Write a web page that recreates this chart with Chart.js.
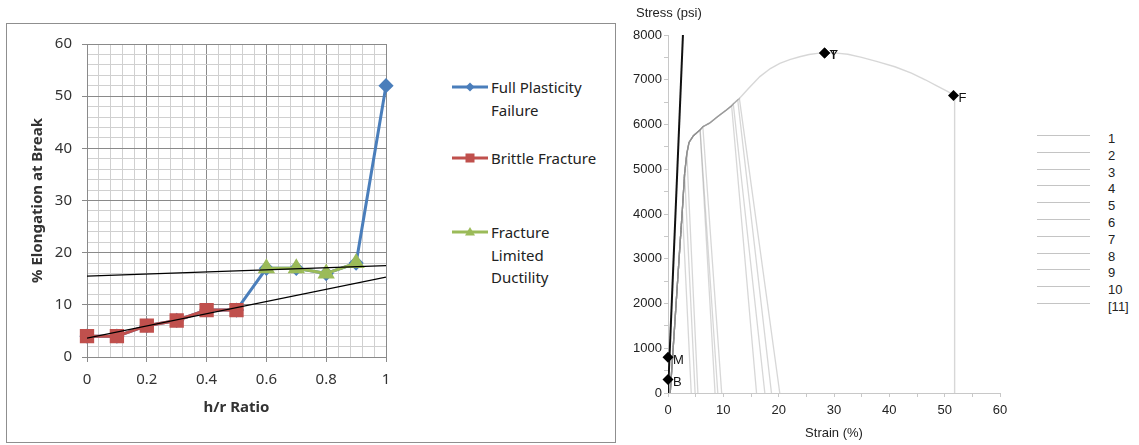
<!DOCTYPE html>
<html lang="en">
<head>
<meta charset="UTF-8">
<title>Elongation and stress-strain</title>
<script src="https://cdn.jsdelivr.net/npm/chart.js"></script>
<style>
  body {
    margin: 0;
    width: 1139px;
    height: 445px;
    position: relative;
    overflow: hidden;
    background: #fff;
    font-family: "Noto Sans", sans-serif;
  }
  .abs { position: absolute; }
  #frame {
    left: 6px; top: 23px;
    width: 608px; height: 418px;
    border: 1px solid #8f8f8f;
  }
  .lgText {
    font-size: 15px;
    line-height: 22.5px;
    color: #222;
    white-space: nowrap;
  }
  .rlgText {
    font-family: "Liberation Sans", sans-serif;
    font-size: 13px;
    color: #222;
  }
  .rlgLine {
    width: 53px;
    border-top: 1px solid #c4c4c4;
  }
</style>
</head>
<body>

<div id="frame" class="abs"></div>
<canvas id="leftChart" class="abs" width="420" height="417" style="left:7px; top:24px"></canvas>
<canvas id="rightChart" class="abs" width="420" height="445" style="left:600px; top:0px"></canvas>

<!-- legend of the left chart -->
<svg class="abs" style="left:450px; top:76px" width="40" height="22">
  <line x1="2" y1="11" x2="38" y2="11" stroke="#4A7EBB" stroke-width="3"/>
  <polygon points="20,6.5 24.5,11 20,15.5 15.5,11" fill="#4A7EBB"/>
</svg>
<div class="abs lgText" style="left:491px; top:76px">Full Plasticity<br>Failure</div>

<svg class="abs" style="left:450px; top:147px" width="40" height="22">
  <line x1="2" y1="11" x2="38" y2="11" stroke="#C0504D" stroke-width="3"/>
  <rect x="15.5" y="6.5" width="9" height="9" fill="#C0504D"/>
</svg>
<div class="abs lgText" style="left:491px; top:147px">Brittle Fracture</div>

<svg class="abs" style="left:450px; top:221px" width="40" height="22">
  <line x1="2" y1="11" x2="38" y2="11" stroke="#9BBB59" stroke-width="3"/>
  <polygon points="20,6 25,14.5 15,14.5" fill="#9BBB59"/>
</svg>
<div class="abs lgText" style="left:491px; top:221px">Fracture<br>Limited<br>Ductility</div>

<div id="rightLegend"></div>

<script>
// ---- left chart: % elongation vs h/r ratio ----
const hrRatio = [0, 0.1, 0.2, 0.3, 0.4, 0.5, 0.6, 0.7, 0.8, 0.9, 1];
const fullPlasticity = [4, 4, 6, 7, 9, 9, 17, 17, 16, 18, 52];
const brittleFracture = [4, 4, 6, 7, 9, 9, null, null, null, null, null];
const limitedDuctility = [null, null, null, null, null, null, 17, 17, 16, 18, null];
const trendX = [0, 1];
const brittleTrend = [3.6, 15.3];
const limitedTrend = [15.5, 17.5];

// ---- right chart: stress (psi) vs strain (%) ----
const curveStrain = [0.4, 1.2, 2.0, 2.6, 3.0, 3.4, 3.8, 4.6, 5.8, 6.3, 7.5, 9.0, 10.5, 11.5, 11.8, 12.6, 12.9,
  14.5, 16.6, 18.5, 20.2, 22, 23.8, 25.5, 27, 28.5, 30.5, 32.5, 35, 38, 41, 44, 46.5, 48.5, 50.5, 51.8, 51.8];
const curveStress = [0, 1500, 3000, 4100, 4900, 5350, 5600, 5750, 5880, 5950, 6030, 6180, 6320, 6420, 6460, 6550, 6580,
  6800, 7070, 7250, 7365, 7450, 7515, 7565, 7590, 7600, 7595, 7570, 7500, 7400, 7290, 7150, 7000, 6870, 6740, 6650, 0];
const unloadTopStrain = [2.6, 3.0, 3.4, 5.8, 5.8, 6.3, 11.5, 11.8, 12.6, 12.9];
const unloadTopStress = [4100, 4900, 5350, 5880, 5880, 5950, 6420, 6460, 6550, 6580];
const unloadEndStrain = [4.2, 4.9, 5.4, 8.5, 9.0, 9.7, 16.0, 17.5, 18.7, 20.2];
const seriesNames = ['1', '2', '3', '4', '5', '6', '7', '8', '9', '10', '[11]'];
const modulusStrain = [0, 2.7];
const modulusStress = [0, 8000];
const markStrain = [0, 0, 28.3, 28.3, 51.6];
const markStress = [300, 800, 7600, 7600, 6650];
const markNames = ['B', 'M', 'Y', 'T', 'F'];

const BLUE = '#4A7EBB', RED = '#C0504D', GREEN = '#9BBB59';
const calFont = '"Noto Sans", sans-serif';
const helvFont = '"Liberation Sans", sans-serif';

function pts(xs, ys) {
  return xs.map((x, i) => ({ x: x, y: ys[i] }));
}

function isMultiple(v, step) {
  const q = v / step;
  return Math.abs(q - Math.round(q)) < 1e-6;
}

// left chart
new Chart(document.getElementById('leftChart'), {
  type: 'line',
  data: {
    datasets: [
      { data: pts(trendX, brittleTrend), borderColor: '#000', borderWidth: 1.3, pointRadius: 0 },
      { data: pts(trendX, limitedTrend), borderColor: '#000', borderWidth: 1.3, pointRadius: 0 },
      { label: 'Fracture Limited Ductility', data: pts(hrRatio, limitedDuctility), borderColor: GREEN,
        backgroundColor: GREEN, borderWidth: 3, pointStyle: 'triangle', pointRadius: 7, clip: false },
      { label: 'Brittle Fracture', data: pts(hrRatio, brittleFracture), borderColor: RED,
        backgroundColor: RED, borderWidth: 3, pointStyle: 'rect', pointRadius: 8, clip: false },
      { label: 'Full Plasticity Failure', data: pts(hrRatio, fullPlasticity), borderColor: BLUE,
        backgroundColor: BLUE, borderWidth: 3, pointStyle: 'rectRot', pointRadius: 5.5, clip: false }
    ]
  },
  options: {
    responsive: false,
    animation: false,
    layout: { padding: { left: 0, right: 41, top: 20, bottom: 24 } },
    plugins: { legend: { display: false }, tooltip: { enabled: false } },
    elements: { line: { tension: 0 }, point: { borderWidth: 0 } },
    scales: {
      x: {
        type: 'linear', min: 0, max: 1,
        afterFit: s => { s.height = 60; },
        ticks: {
          stepSize: 0.04, autoSkip: false, maxRotation: 0, padding: 9,
          color: '#333', font: { family: calFont, size: 15 },
          callback: v => isMultiple(v, 0.2) ? String(Number(v.toFixed(2))) : ''
        },
        grid: {
          color: c => isMultiple(c.tick.value, 0.2) ? '#8a8a8a' : '#d0d0d0',
          tickColor: c => isMultiple(c.tick.value, 0.2) ? '#8a8a8a' : 'rgba(0,0,0,0)',
          tickLength: 5
        },
        border: { color: '#8a8a8a' },
        title: { display: true, text: 'h/r Ratio', color: '#333', padding: 0,
          font: { family: calFont, size: 15, weight: 'bold' } }
      },
      y: {
        min: 0, max: 60,
        afterFit: s => { s.width = 80; },
        ticks: {
          stepSize: 2, autoSkip: false, padding: 10,
          color: '#333', font: { family: calFont, size: 15 },
          callback: v => isMultiple(v, 10) ? String(v) : ''
        },
        grid: {
          color: c => isMultiple(c.tick.value, 10) ? '#8a8a8a' : '#d0d0d0',
          tickColor: c => isMultiple(c.tick.value, 10) ? '#8a8a8a' : 'rgba(0,0,0,0)',
          tickLength: 5
        },
        border: { color: '#8a8a8a' },
        title: { display: true, text: '% Elongation at Break', color: '#333', padding: { top: 22, bottom: 0 },
          font: { family: calFont, size: 15, weight: 'bold' } }
      }
    }
  }
});

// right chart
const grayLine = 'rgba(140,140,140,0.35)';
const testSets = unloadTopStrain.map((top, i) => {
  const load = curveStrain.map((s, k) => ({ x: s, y: curveStress[k] })).filter(p => p.x < top);
  return {
    label: seriesNames[i],
    data: load.concat([{ x: top, y: unloadTopStress[i] }, { x: unloadEndStrain[i], y: 0 }]),
    borderColor: grayLine, borderWidth: 1.3, pointRadius: 0
  };
});
testSets.push({
  label: seriesNames[10], data: pts(curveStrain, curveStress),
  borderColor: grayLine, borderWidth: 1.4, pointRadius: 0
});

const pointLabels = {
  id: 'pointLabels',
  afterDatasetsDraw(chart) {
    const { ctx, scales: { x, y }, chartArea } = chart;
    ctx.save();
    ctx.font = '13px ' + helvFont;
    ctx.fillStyle = '#111';
    ctx.textBaseline = 'middle';
    markNames.forEach((t, i) => {
      ctx.fillText(t, x.getPixelForValue(markStrain[i]) + 5, y.getPixelForValue(markStress[i]) + 3);
    });
    ctx.fillStyle = '#222';
    ctx.fillText('Stress (psi)', chartArea.left - 32, 13);
    ctx.restore();
  }
};

new Chart(document.getElementById('rightChart'), {
  type: 'line',
  data: {
    datasets: [
      { data: pts(markStrain, markStress), showLine: false, pointStyle: 'rectRot', pointRadius: 5.5,
        backgroundColor: '#000', borderWidth: 0, clip: false },
      { data: pts(modulusStrain, modulusStress), borderColor: '#111', borderWidth: 2, pointRadius: 0 }
    ].concat(testSets)
  },
  options: {
    responsive: false,
    animation: false,
    layout: { padding: { left: 0, right: 20, top: 35, bottom: 0 } },
    plugins: { legend: { display: false }, tooltip: { enabled: false } },
    elements: { line: { tension: 0 } },
    scales: {
      x: {
        type: 'linear', min: 0, max: 60,
        afterFit: s => { s.height = 52; },
        ticks: {
          stepSize: 5, autoSkip: false, maxRotation: 0, padding: 6,
          color: '#222', font: { family: helvFont, size: 13 },
          callback: v => isMultiple(v, 10) ? String(v) : ''
        },
        grid: { drawOnChartArea: false, tickLength: 4, tickColor: '#c8c8c8' },
        border: { color: '#c8c8c8', dash: [1, 2] },
        title: { display: true, text: 'Strain (%)', color: '#222', padding: { top: 0, bottom: 4 },
          font: { family: helvFont, size: 13 } }
      },
      y: {
        min: 0, max: 8000,
        afterFit: s => { s.width = 68; },
        ticks: {
          stepSize: 500, autoSkip: false, padding: 2,
          color: '#222', font: { family: helvFont, size: 13 },
          callback: v => isMultiple(v, 1000) ? String(v) : ''
        },
        grid: { drawOnChartArea: false, tickLength: 4, tickColor: '#c8c8c8' },
        border: { color: '#c8c8c8', dash: [1, 2] }
      }
    }
  },
  plugins: [pointLabels]
});

// legend of the right chart
const rlg = document.getElementById('rightLegend');
seriesNames.forEach((name, i) => {
  const line = document.createElement('div');
  line.className = 'abs rlgLine';
  line.style.left = '1037px';
  line.style.top = (135 + i * 16.8) + 'px';
  rlg.appendChild(line);
  const txt = document.createElement('div');
  txt.className = 'abs rlgText';
  txt.style.left = '1108px';
  txt.style.top = (131 + i * 16.8) + 'px';
  txt.textContent = name;
  rlg.appendChild(txt);
});
</script>
</body>
</html>
